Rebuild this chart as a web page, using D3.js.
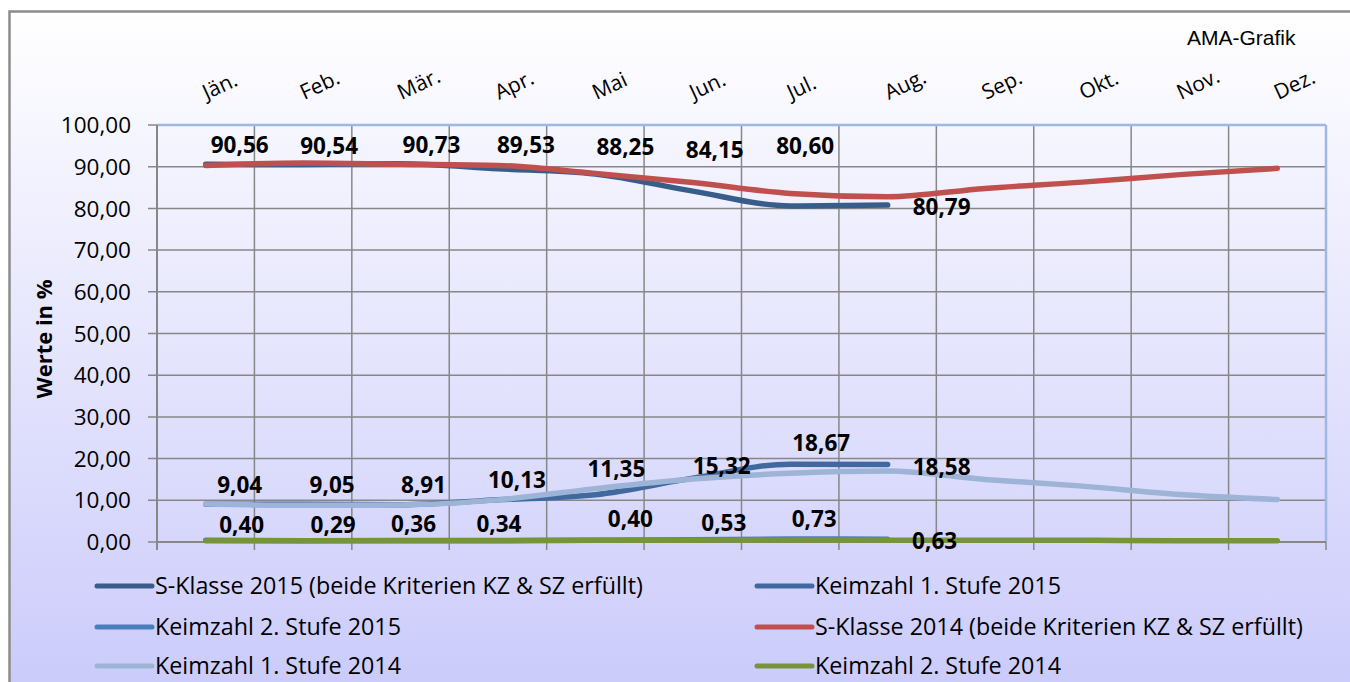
<!DOCTYPE html>
<html lang="de">
<head>
  <meta charset="UTF-8" />
  <title>S-Klasse / Keimzahl 2014-2015</title>
  <style>
    html, body { margin:0; padding:0; background:#fff; }
    svg { display:block; font-family:"Open Sans", sans-serif; }
  </style>
</head>
<body>
  <svg id="chart" width="1350" height="682"></svg>
  <script src="https://d3js.org/d3.v7.min.js"></script>
  <script>
  // Categories
  const months = ["Jän.","Feb.","Mär.","Apr.","Mai","Jun.","Jul.","Aug.","Sep.","Okt.","Nov.","Dez."];

  // Series values (in %)
  const sKlasse2015 = [90.56, 90.54, 90.73, 89.53, 88.25, 84.15, 80.60, 80.79];
  const keim1Stufe2015 = [9.04, 9.05, 8.91, 10.13, 11.35, 15.32, 18.67, 18.58];
  const keim2Stufe2015 = [0.40, 0.29, 0.36, 0.34, 0.40, 0.53, 0.73, 0.63];
  const sKlasse2014 = [90.3, 90.9, 90.6, 90.3, 88.4, 86.2, 83.6, 82.8, 84.8, 86.3, 88.1, 89.6];
  const keim1Stufe2014 = [9.1, 8.8, 8.9, 10.1, 12.8, 15.1, 16.5, 17.0, 15.0, 13.4, 11.4, 10.2];
  const keim2Stufe2014 = [0.3, 0.3, 0.3, 0.3, 0.4, 0.4, 0.5, 0.4, 0.4, 0.4, 0.3, 0.3];

  // Y tick labels
  const yTicks = [0,10,20,30,40,50,60,70,80,90,100];

  // Series table (legend order = draw order)
  const series = [
    { name:"S-Klasse 2015 (beide Kriterien KZ & SZ erfüllt)", values:sKlasse2015, color:"#385d8a", labels:true },
    { name:"Keimzahl 1. Stufe 2015", values:keim1Stufe2015, color:"#4069a0", labels:true },
    { name:"Keimzahl 2. Stufe 2015", values:keim2Stufe2015, color:"#4a7ebb", labels:true },
    { name:"S-Klasse 2014 (beide Kriterien KZ & SZ erfüllt)", values:sKlasse2014, color:"#c0504d", labels:false },
    { name:"Keimzahl 1. Stufe 2014", values:keim1Stufe2014, color:"#9db4d6", labels:false },
    { name:"Keimzahl 2. Stufe 2014", values:keim2Stufe2014, color:"#77933c", labels:false }
  ];

  // Hand-placed data label offsets (px from the point), as in the original
  const labelShift = [
    [[34,-19],[26,-19],[31,-19],[28,-24],[30,-27],[22,-41],[15,-60],[54,2]],
    [[34,-19],[29,-19],[23,-20],[19,-20],[21,-26],[29,-12],[31,-21],[54,2]],
    [[36,-15],[30,-16],[13,-17],[1,-17],[35,-21],[31,-17],[24,-20],[47,2]]
  ];

  const W = 1350, H = 682;
  const plot = { left:157, right:1326, top:125, bottom:542 };
  const fmt = v => v.toFixed(2).replace('.', ',');

  const svg = d3.select('#chart');
  const defs = svg.append('defs');
  const bg = defs.append('linearGradient').attr('id','bgGrad')
    .attr('x1','0').attr('y1','0').attr('x2','0').attr('y2','1');
  bg.append('stop').attr('offset','0%').attr('stop-color','#ffffff');
  bg.append('stop').attr('offset','100%').attr('stop-color','#c9c9fb');

  // chart area
  svg.append('rect').attr('x',9.5).attr('y',11.5).attr('width',W+20).attr('height',H+20)
    .attr('fill','url(#bgGrad)').attr('stroke','#8c8c8c').attr('stroke-width',2.5);

  const x = d3.scaleBand().domain(months).range([plot.left, plot.right]).padding(0);
  const cx = i => x(months[i]) + x.bandwidth()/2;
  const y = d3.scaleLinear().domain([0,100]).range([plot.bottom, plot.top]);

  // horizontal gridlines + left ticks
  const g = svg.append('g');
  g.selectAll('.hgrid').data(yTicks.filter(t => t > 0 && t < 100)).join('line')
    .attr('x1', plot.left - 9).attr('x2', plot.right)
    .attr('y1', d => y(d)).attr('y2', d => y(d))
    .attr('stroke','#878787').attr('stroke-width',1.5);
  // ticks for 0 and 100
  g.selectAll('.etick').data([0,100]).join('line')
    .attr('x1', plot.left - 9).attr('x2', plot.left)
    .attr('y1', d => y(d)).attr('y2', d => y(d))
    .attr('stroke','#878787').attr('stroke-width',1.5);

  // vertical gridlines (category boundaries) + bottom ticks
  const bounds = months.map(m => x(m)).concat([plot.right]);
  g.selectAll('.vgrid').data(bounds.slice(1, -1)).join('line')
    .attr('x1', d => d).attr('x2', d => d)
    .attr('y1', plot.top).attr('y2', plot.bottom + 8)
    .attr('stroke','#878787').attr('stroke-width',1.5);
  g.selectAll('.btick').data([plot.left, plot.right]).join('line')
    .attr('x1', d => d).attr('x2', d => d)
    .attr('y1', plot.bottom).attr('y2', plot.bottom + 8)
    .attr('stroke','#878787').attr('stroke-width',1.5);

  // plot frame: blue top/right, grey axes
  g.append('line').attr('x1',plot.left).attr('x2',plot.right).attr('y1',plot.top).attr('y2',plot.top)
    .attr('stroke','#9db8e2').attr('stroke-width',2.5);
  g.append('line').attr('x1',plot.right).attr('x2',plot.right).attr('y1',plot.top).attr('y2',plot.bottom)
    .attr('stroke','#9db8e2').attr('stroke-width',2.5);
  g.append('line').attr('x1',plot.left).attr('x2',plot.left).attr('y1',plot.top).attr('y2',plot.bottom + 8)
    .attr('stroke','#878787').attr('stroke-width',2);
  g.append('line').attr('x1',plot.left).attr('x2',plot.right).attr('y1',plot.bottom).attr('y2',plot.bottom)
    .attr('stroke','#878787').attr('stroke-width',2);

  // y tick labels
  svg.append('g').selectAll('text').data(yTicks).join('text')
    .attr('x', 131).attr('y', d => y(d)).attr('dy','0.36em')
    .attr('text-anchor','end').attr('font-size','22.5px').attr('fill','#000')
    .text(d => fmt(d));

  // month labels (top, rotated)
  svg.append('g').selectAll('text').data(months).join('text')
    .attr('transform', (d,i) => `translate(${cx(i) + 1},100) rotate(-25)`)
    .attr('font-size','21px').attr('fill','#000')
    .text(d => d);

  // y-axis title
  svg.append('text')
    .attr('transform','translate(52,339) rotate(-90)')
    .attr('text-anchor','middle').attr('font-size','22px').attr('font-weight','bold')
    .text('Werte in %');

  // AMA-Grafik
  svg.append('text').attr('x',1187).attr('y',45)
    .attr('font-family','"Liberation Sans", Arial, sans-serif').attr('font-size','21px')
    .text('AMA-Grafik');

  // lines
  const line = d3.line()
    .x((d,i) => cx(i)).y(d => y(d))
    .curve(d3.curveMonotoneX);
  svg.append('g').selectAll('path').data(series).join('path')
    .attr('d', s => line(s.values))
    .attr('fill','none').attr('stroke', s => s.color)
    .attr('stroke-width',5.5).attr('stroke-linecap','round').attr('stroke-linejoin','round');

  // data labels for 2015 series
  const lab = svg.append('g');
  series.filter(s => s.labels).forEach((s, si) => {
    lab.selectAll(null).data(s.values).join('text')
      .attr('x', (d,i) => cx(i) + labelShift[si][i][0])
      .attr('y', (d,i) => y(d) + labelShift[si][i][1])
      .attr('dy','0.36em').attr('text-anchor','middle')
      .attr('font-size','22.5px').attr('font-weight','bold').attr('fill','#000')
      .text(d => fmt(d));
  });

  // legend: 2 columns x 3 rows
  const legCols = [97, 757], legRows = [586, 627, 666];
  const leg = svg.append('g').selectAll('g').data(series).join('g')
    .attr('transform', (d,i) => `translate(${legCols[i % 2]},${legRows[Math.floor(i / 2)]})`);
  leg.append('line').attr('x1',0).attr('x2',55).attr('y1',0).attr('y2',0)
    .attr('stroke', d => d.color).attr('stroke-width',5).attr('stroke-linecap','round');
  leg.append('text').attr('x',58).attr('dy','0.36em')
    .attr('font-size','23.3px').attr('fill','#000')
    .text(d => d.name);
  </script>
</body>
</html>
